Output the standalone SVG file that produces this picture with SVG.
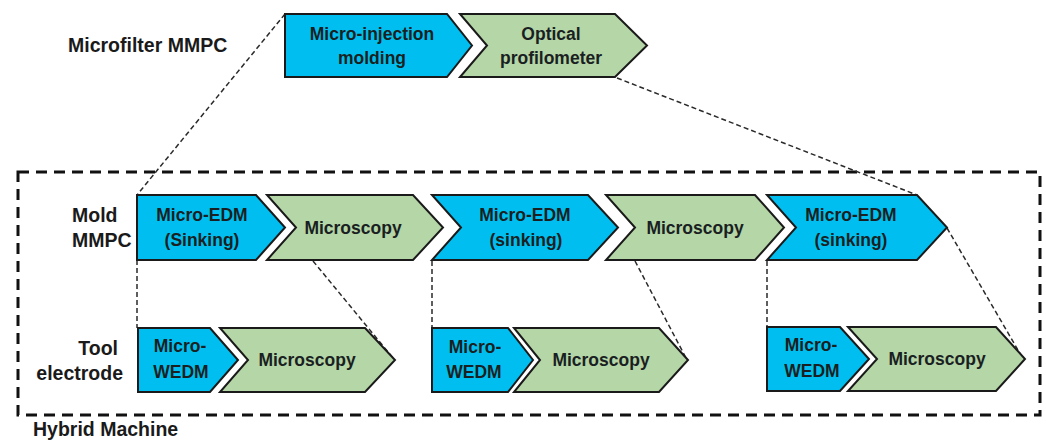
<svg xmlns="http://www.w3.org/2000/svg" width="1046" height="443" viewBox="0 0 1046 443">
<style>
.blue{fill:#00BFF0;stroke:#1a1a1a;stroke-width:2;stroke-linejoin:miter}
.green{fill:#B5D6A7;stroke:#1a1a1a;stroke-width:2;stroke-linejoin:miter}
.t{font-family:"Liberation Sans",Arial,sans-serif;font-weight:bold;font-size:17.5px;fill:#1a1f22;text-anchor:middle}
.lbl{font-family:"Liberation Sans",Arial,sans-serif;font-weight:bold;font-size:19.5px;fill:#1a1a1a}
.conn{stroke:#2a2a2a;stroke-width:1.5;stroke-dasharray:5 3;fill:none}
.frame{stroke:#111;stroke-width:3;stroke-dasharray:11 7;fill:none}
</style>
<rect width="1046" height="443" fill="#ffffff"/>
<g id="frame">
<rect class="frame" x="18" y="172" width="1022" height="243"/>
</g>
<g id="labels">
<text class="lbl" x="68" y="52">Microfilter MMPC</text>
<text class="lbl" x="72" y="222">Mold</text>
<text class="lbl" x="72" y="247">MMPC</text>
<text class="lbl" x="118" y="355" text-anchor="end">Tool</text>
<text class="lbl" x="123" y="380" text-anchor="end">electrode</text>
<text class="lbl" x="33" y="436">Hybrid Machine</text>
</g>
<g id="connectors">
<line class="conn" x1="285" y1="14" x2="137" y2="195"/>
<line class="conn" x1="617" y1="78" x2="917" y2="195"/>
<line class="conn" x1="137" y1="260" x2="137" y2="328"/>
<line class="conn" x1="313" y1="261" x2="393" y2="358"/>
<line class="conn" x1="432" y1="261" x2="432" y2="328"/>
<line class="conn" x1="635" y1="261" x2="686" y2="358"/>
<line class="conn" x1="767" y1="261" x2="767" y2="327"/>
<line class="conn" x1="947" y1="228" x2="1022" y2="357"/>
</g>
<g id="micro-injection">
<path class="blue" d="M285,14 H447 L472,45.5 L447,77 H285 Z"/>
<text class="t" x="372" y="40">Micro-injection</text>
<text class="t" x="372" y="64">molding</text>
</g>
<g id="optical-profilometer">
<path class="green" d="M460,14 H615 L647,45.5 L615,77 H460 L487,45.5 Z"/>
<text class="t" x="551" y="40">Optical</text>
<text class="t" x="551" y="64">profilometer</text>
</g>
<g id="mold-edm-1">
<path class="blue" d="M137,195 H256 L285,227.5 L256,260 H137 Z"/>
<text class="t" x="202" y="221">Micro-EDM</text>
<text class="t" x="202" y="246">(Sinking)</text>
</g>
<g id="mold-microscopy-1">
<path class="green" d="M267,195 H413 L443,227.5 L413,260 H267 L296,227.5 Z"/>
<text class="t" x="353" y="234">Microscopy</text>
</g>
<g id="mold-edm-2">
<path class="blue" d="M432,195 H588 L618,227.5 L588,260 H432 L461,227.5 Z"/>
<text class="t" x="525" y="221">Micro-EDM</text>
<text class="t" x="526" y="246">(sinking)</text>
</g>
<g id="mold-microscopy-2">
<path class="green" d="M606,195 H755 L784,227.5 L755,260 H606 L635,227.5 Z"/>
<text class="t" x="695" y="234">Microscopy</text>
</g>
<g id="mold-edm-3">
<path class="blue" d="M767,195 H917 L947,227.5 L917,260 H767 L796,227.5 Z"/>
<text class="t" x="851" y="221">Micro-EDM</text>
<text class="t" x="851" y="246">(sinking)</text>
</g>
<g id="tool-wedm-1">
<path class="blue" d="M138,328 H210 L238,360 L210,392 H138 Z"/>
<text class="t" x="180" y="352">Micro-</text>
<text class="t" x="181" y="378">WEDM</text>
</g>
<g id="tool-microscopy-1">
<path class="green" d="M220,328 H365 L395,360 L365,392 H220 L248,360 Z"/>
<text class="t" x="307" y="366">Microscopy</text>
</g>
<g id="tool-wedm-2">
<path class="blue" d="M432,328 H508 L533,360 L508,392 H432 Z"/>
<text class="t" x="475" y="353">Micro-</text>
<text class="t" x="474" y="378">WEDM</text>
</g>
<g id="tool-microscopy-2">
<path class="green" d="M514,328 H659 L688,360 L659,392 H514 L540,360 Z"/>
<text class="t" x="601" y="366">Microscopy</text>
</g>
<g id="tool-wedm-3">
<path class="blue" d="M767,327 H840 L869,359 L840,391 H767 Z"/>
<text class="t" x="811" y="351">Micro-</text>
<text class="t" x="812" y="377">WEDM</text>
</g>
<g id="tool-microscopy-3">
<path class="green" d="M848,327 H996 L1025,359 L996,391 H848 L877,359 Z"/>
<text class="t" x="937" y="365">Microscopy</text>
</g>
</svg>
